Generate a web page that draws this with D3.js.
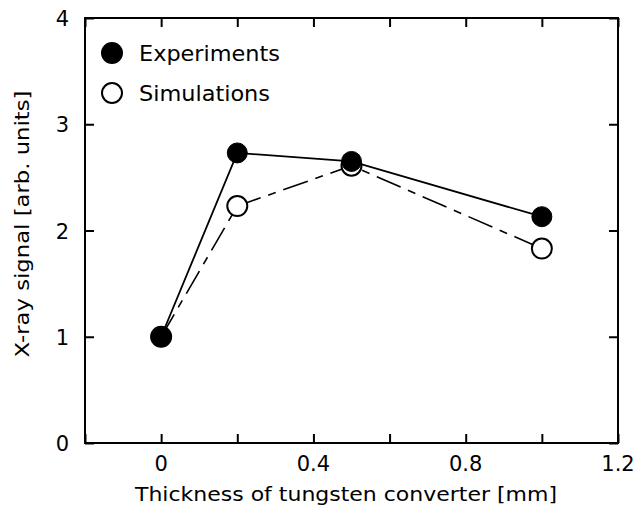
<!DOCTYPE html>
<html>
<head>
<meta charset="utf-8">
<script src="https://cdn.jsdelivr.net/npm/d3@7"></script>
<style>
  html, body { margin: 0; padding: 0; background: #fff; }
  svg { display: block; font-family: "DejaVu Sans", "Liberation Sans", Arial, sans-serif; }
</style>
</head>
<body>
<svg id="chart" width="634" height="509"></svg>
<script>
// ---- data ----
const thickness = [0, 0.2, 0.5, 1.0];
const experiments = [1.0, 2.73, 2.65, 2.13];
const simulations = [1.0, 2.23, 2.61, 1.83];
const xTickValues = [-0.2, 0, 0.2, 0.4, 0.6, 0.8, 1.0, 1.2];
const xTickLabels = ["0", "0.4", "0.8", "1.2"];
const yTickValues = [0, 1, 2, 3, 4];
const seriesNames = ["Experiments", "Simulations"];
const xTitle = "Thickness of tungsten converter [mm]";
const yTitle = "X-ray signal [arb. units]";

// ---- layout ----
const svg = d3.select("#chart");
const m = { left: 85, right: 618, top: 18, bottom: 443 };
const x = d3.scaleLinear().domain([-0.2, 1.2]).range([m.left, m.right]);
const y = d3.scaleLinear().domain([0, 4]).range([m.bottom, m.top]);
const tickLen = 9;

// frame
svg.append("rect")
  .attr("x", m.left).attr("y", m.top)
  .attr("width", m.right - m.left).attr("height", m.bottom - m.top)
  .attr("fill", "none").attr("stroke", "#000").attr("stroke-width", 2);

// axes (ticks inward)
const xb = svg.append("g").attr("transform", `translate(0,${m.bottom})`)
  .call(d3.axisBottom(x).tickValues(xTickValues).tickSizeInner(-tickLen).tickSizeOuter(0).tickFormat(""));
const xt = svg.append("g").attr("transform", `translate(0,${m.top})`)
  .call(d3.axisTop(x).tickValues(xTickValues).tickSizeInner(-tickLen).tickSizeOuter(0).tickFormat(""));
const yl = svg.append("g").attr("transform", `translate(${m.left},0)`)
  .call(d3.axisLeft(y).tickValues(yTickValues).tickSizeInner(-tickLen).tickSizeOuter(0).tickFormat(""));
const yr = svg.append("g").attr("transform", `translate(${m.right},0)`)
  .call(d3.axisRight(y).tickValues(yTickValues).tickSizeInner(-tickLen).tickSizeOuter(0).tickFormat(""));
[xb, xt, yl, yr].forEach(g => {
  g.select(".domain").remove();
  g.selectAll(".tick line").attr("stroke", "#000").attr("stroke-width", 2);
});

// tick labels
svg.append("g").selectAll("text").data(xTickLabels).join("text")
  .attr("x", d => x(+d)).attr("y", m.bottom + 28)
  .attr("text-anchor", "middle").attr("font-size", 21).attr("fill", "#000")
  .text(d => d);
svg.append("g").selectAll("text").data(yTickValues).join("text")
  .attr("x", m.left - 16).attr("y", d => y(d) + 8)
  .attr("text-anchor", "end").attr("font-size", 21).attr("fill", "#000")
  .text(d => d);

// axis titles
svg.append("text")
  .attr("x", (135 + 557) / 2).attr("y", 501)
  .attr("text-anchor", "middle").attr("font-size", 20).attr("fill", "#000")
  .attr("textLength", 422).attr("lengthAdjust", "spacingAndGlyphs")
  .text(xTitle);
svg.append("text")
  .attr("transform", "translate(29,224) rotate(-90)")
  .attr("text-anchor", "middle").attr("font-size", 20).attr("fill", "#000")
  .attr("textLength", 267).attr("lengthAdjust", "spacingAndGlyphs")
  .text(yTitle);

// lines
const line = d3.line().x(d => x(d[0])).y(d => y(d[1]));
const simPts = thickness.map((t, i) => [t, simulations[i]]);
const expPts = thickness.map((t, i) => [t, experiments[i]]);
const r = 10;

svg.append("path").attr("d", line(simPts))
  .attr("fill", "none").attr("stroke", "#000").attr("stroke-width", 1.6)
  .attr("stroke-dasharray", "26,8,8,8");
svg.append("g").selectAll("circle").data(simPts).join("circle")
  .attr("cx", d => x(d[0])).attr("cy", d => y(d[1])).attr("r", r)
  .attr("fill", "#fff").attr("stroke", "#000").attr("stroke-width", 2);

svg.append("path").attr("d", line(expPts))
  .attr("fill", "none").attr("stroke", "#000").attr("stroke-width", 1.8);
svg.append("g").selectAll("circle").data(expPts).join("circle")
  .attr("cx", d => x(d[0])).attr("cy", d => y(d[1])).attr("r", r)
  .attr("fill", "#000").attr("stroke", "#000").attr("stroke-width", 1);

// legend
const leg = svg.append("g");
const legY = [53, 93];
leg.selectAll("circle").data(seriesNames).join("circle")
  .attr("cx", 112).attr("cy", (d, i) => legY[i]).attr("r", r)
  .attr("fill", (d, i) => i === 0 ? "#000" : "#fff")
  .attr("stroke", "#000").attr("stroke-width", 2);
leg.selectAll("text").data(seriesNames).join("text")
  .attr("x", 139).attr("y", (d, i) => legY[i] + 8)
  .attr("font-size", 21).attr("fill", "#000")
  .attr("textLength", (d, i) => i === 0 ? 141 : 131).attr("lengthAdjust", "spacingAndGlyphs")
  .text(d => d);
</script>
</body>
</html>
